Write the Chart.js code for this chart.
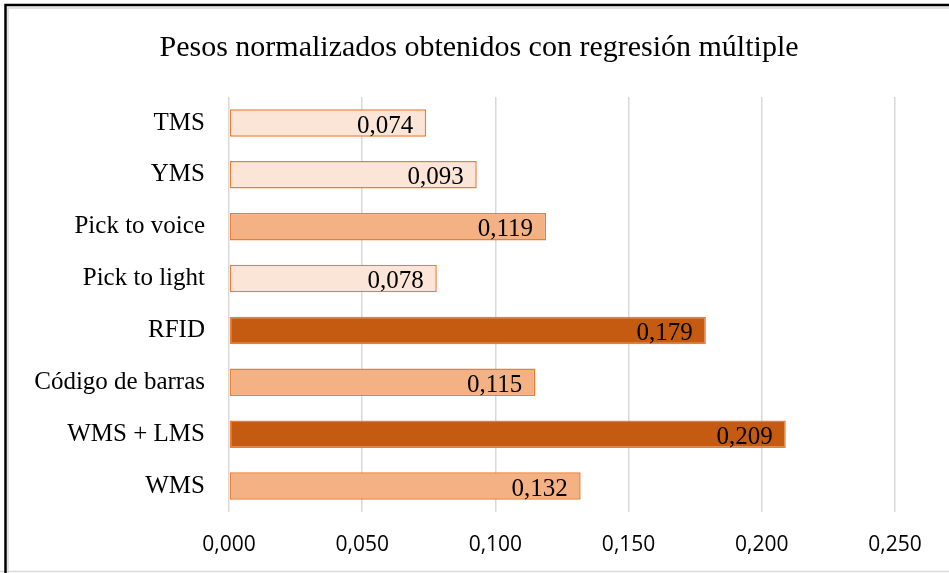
<!DOCTYPE html>
<html>
<head>
<meta charset="utf-8">
<script src="https://cdn.jsdelivr.net/npm/chart.js@4/dist/chart.umd.min.js"></script>
<style>
  html, body { margin: 0; padding: 0; background: #ffffff; }
  #wrap { width: 949px; height: 573px; }
</style>
</head>
<body>
<div id="wrap"><canvas id="c" width="949" height="573"></canvas></div>
<script>
// Categories, top to bottom
const categories = ["TMS", "YMS", "Pick to voice", "Pick to light", "RFID", "Código de barras", "WMS + LMS", "WMS"];
// Normalised weights from multiple regression
const weights = [0.074, 0.093, 0.119, 0.078, 0.179, 0.115, 0.209, 0.132];
// Shade group of each bar: 0 = light, 1 = medium, 2 = dark
const shadeGroup = [0, 0, 1, 0, 2, 1, 2, 1];
// X axis tick values
const xTicks = [0, 0.05, 0.10, 0.15, 0.20, 0.25];

const titleText = "Pesos normalizados obtenidos con regresión múltiple";
const shades = ["#FBE5D6", "#F4B183", "#C55A11"];
const edge = "#ED7D31";
const serif = "'Liberation Serif', 'DejaVu Serif', serif";
const sans = "'Open Sans', 'Liberation Sans', sans-serif";

const fmt = v => v.toFixed(3).replace(".", ",");

// White background, outer frame and the chart heading
const framePlugin = {
  id: "frame",
  beforeDraw(chart) {
    const ctx = chart.ctx;
    ctx.save();
    ctx.fillStyle = "#ffffff";
    ctx.fillRect(0, 0, chart.width, chart.height);
    ctx.strokeStyle = "#d9d9d9";
    ctx.lineWidth = 1.5;
    ctx.beginPath();
    ctx.moveTo(8, chart.height);
    ctx.lineTo(8, 8);
    ctx.lineTo(chart.width, 8);
    ctx.moveTo(0, 571.5);
    ctx.lineTo(chart.width, 571.5);
    ctx.stroke();
    ctx.strokeStyle = "#000000";
    ctx.lineWidth = 2.5;
    ctx.beginPath();
    ctx.moveTo(5.5, chart.height);
    ctx.lineTo(5.5, 5);
    ctx.lineTo(chart.width, 5);
    ctx.stroke();

    ctx.font = "30px " + serif;
    ctx.fillStyle = "#000000";
    ctx.textAlign = "center";
    ctx.textBaseline = "middle";
    ctx.fillText(titleText, 479, 48);
    ctx.restore();
  }
};

// Value labels inside the end of each bar
const valueLabels = {
  id: "valueLabels",
  afterDatasetsDraw(chart) {
    const ctx = chart.ctx;
    const meta = chart.getDatasetMeta(0);
    ctx.save();
    ctx.font = "25px " + serif;
    ctx.fillStyle = "#000000";
    ctx.textAlign = "right";
    ctx.textBaseline = "middle";
    meta.data.forEach((bar, i) => {
      ctx.fillText(fmt(weights[i]), bar.x - 13, bar.y + 3);
    });
    ctx.restore();
  }
};

new Chart(document.getElementById("c"), {
  type: "bar",
  data: {
    labels: categories,
    datasets: [{
      data: weights,
      backgroundColor: shadeGroup.map(g => shades[g]),
      borderColor: edge,
      borderWidth: 1.5,
      borderSkipped: false,
      barPercentage: 1,
      categoryPercentage: 0.53
    }]
  },
  options: {
    indexAxis: "y",
    responsive: false,
    animation: false,
    layout: { padding: { left: 0, right: 54, top: 97, bottom: 17 } },
    plugins: {
      legend: { display: false },
      tooltip: { enabled: false },
      title: { display: false }
    },
    scales: {
      x: {
        min: 0,
        max: 0.25,
        afterBuildTicks(scale) { scale.ticks = xTicks.map(v => ({ value: v })); },
        afterFit(scale) { scale.height = 44; },
        ticks: {
          color: "#000000",
          font: { family: sans, size: 21 },
          padding: 20,
          maxRotation: 0,
          callback: v => fmt(v)
        },
        grid: { color: "#d9d9d9", lineWidth: 1.5, drawTicks: false },
        border: { display: false }
      },
      y: {
        afterFit(scale) { scale.width = 229; },
        ticks: {
          color: "#000000",
          font: { family: serif, size: 25 },
          padding: 24
        },
        grid: { display: false, drawTicks: false },
        border: { display: false }
      }
    }
  },
  plugins: [framePlugin, valueLabels]
});
</script>
</body>
</html>
